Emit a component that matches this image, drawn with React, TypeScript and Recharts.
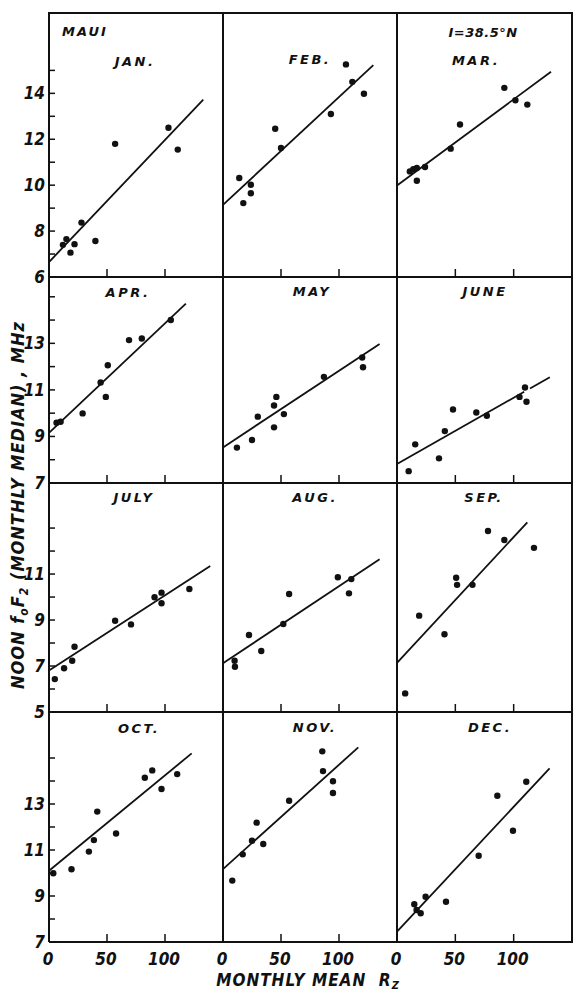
import { ComposedChart, Scatter, Line, XAxis, YAxis } from "recharts";

type Pt = [number, number];

// monthly mean Rz vs noon foF2 (MHz)
const jan: Pt[] = [[12, 7.4], [15, 7.65], [18.5, 7.06], [22, 7.43], [28, 8.37], [40, 7.57], [57, 11.8], [103, 12.5], [111, 11.55]];
const feb: Pt[] = [[14, 10.31], [17.5, 9.22], [24, 10.02], [24, 9.65], [45, 12.46], [50, 11.62], [93, 13.1], [106, 15.26], [111.5, 14.5], [121.5, 13.98]];
const mar: Pt[] = [[11, 10.6], [14, 10.7], [17, 10.19], [17, 10.75], [24, 10.79], [46, 11.59], [54, 12.64], [92, 14.24], [101.5, 13.7], [111.7, 13.51]];
const apr: Pt[] = [[6.5, 9.59], [10, 9.63], [29, 9.99], [44.5, 11.32], [49, 10.7], [50.7, 12.06], [69, 13.14], [80, 13.21], [105, 14.0]];
const may: Pt[] = [[12, 8.52], [25, 8.85], [30, 9.85], [44, 9.39], [44, 10.33], [46, 10.7], [52.5, 9.96], [87, 11.56], [120, 12.39], [120.7, 11.97]];
const june: Pt[] = [[10, 7.51], [15.6, 8.66], [36, 8.06], [41, 9.23], [48, 10.16], [68, 10.03], [77, 9.89], [105, 10.7], [109.7, 11.1], [111, 10.49]];
const july: Pt[] = [[5, 6.43], [13, 6.9], [20, 7.23], [22, 7.84], [57, 8.97], [70.7, 8.81], [91, 9.99], [97, 10.19], [97, 9.73], [121, 10.35]];
const aug: Pt[] = [[10, 7.23], [10.3, 6.97], [22.4, 8.35], [33, 7.65], [52, 8.83], [57, 10.13], [99, 10.86], [110.6, 10.78], [108.6, 10.16]];
const sep: Pt[] = [[7, 5.81], [19, 9.19], [40.7, 8.38], [50.7, 10.84], [51.5, 10.53], [64.7, 10.53], [78, 12.87], [92, 12.48], [117.4, 12.14]];
const oct: Pt[] = [[3.7, 9.99], [19.4, 10.16], [34.4, 10.93], [38.7, 11.43], [41.6, 12.67], [57.8, 11.72], [82.6, 14.14], [89, 14.46], [97, 13.65], [110.5, 14.3]];
const nov: Pt[] = [[8, 9.67], [17, 10.81], [25, 11.4], [29, 12.19], [34.7, 11.26], [57, 13.14], [85.6, 15.29], [86.2, 14.43], [94.8, 13.99], [94.8, 13.48]];
const dec: Pt[] = [[14.8, 8.64], [16.8, 8.39], [20.3, 8.25], [24.5, 8.97], [42, 8.75], [70, 10.75], [86, 13.36], [99.4, 11.84], [110.8, 13.97]];

// fitted straight lines (end points)
const janFit: Pt[] = [[0, 6.65], [133, 13.73]];
const febFit: Pt[] = [[0, 9.14], [129.6, 15.23]];
const marFit: Pt[] = [[0, 9.99], [132, 14.94]];
const aprFit: Pt[] = [[0, 9.15], [118, 14.71]];
const mayFit: Pt[] = [[0, 8.53], [135, 12.97]];
const juneFit: Pt[] = [[0, 7.82], [109, 10.92]];
const juneDash: Pt[] = [[114, 11.06], [131, 11.54]];
const julyFit: Pt[] = [[0, 6.8], [139, 11.35]];
const augFit: Pt[] = [[0, 7.12], [135, 11.64]];
const sepFit: Pt[] = [[0, 7.14], [111.7, 13.25]];
const octFit: Pt[] = [[0, 10.1], [123, 15.2]];
const novFit: Pt[] = [[0, 10.17], [116.6, 15.46]];
const decFit: Pt[] = [[0, 7.45], [130.8, 14.55]];

const monthNames = ["JAN.", "FEB.", "MAR.", "APR.", "MAY", "JUNE", "JULY", "AUG.", "SEP.", "OCT.", "NOV.", "DEC."];
const monthPoints = [jan, feb, mar, apr, may, june, july, aug, sep, oct, nov, dec];
const monthFits = [janFit, febFit, marFit, aprFit, mayFit, juneFit, julyFit, augFit, sepFit, octFit, novFit, decFit];

const xDomain: [number, number] = [0, 150];
const xTicks = [0, 50, 100];
const rowDomains: [number, number][] = [[6, 17.5], [7, 15.85], [5, 14.96], [7, 17]];
const rowTicks = [
  [6, 7, 8, 9, 10, 11, 12, 13, 14, 15],
  [7, 8, 9, 10, 11, 12, 13, 14, 15],
  [5, 6, 7, 8, 9, 10, 11, 12, 13],
  [7, 8, 9, 10, 11, 12, 13, 14, 15],
];
const rowTickLabels = [[6, 8, 10, 12, 14], [7, 9, 11, 13], [5, 7, 9, 11], [7, 9, 11, 13]];

// page layout (px)
const ROW_EDGES = [13, 277, 483, 712, 942];
const COL_EDGES = [49, 223, 397, 572];
const TITLE_POS: Pt[] = [
  [135, 61], [310, 59], [476, 60],
  [128, 292], [312, 291], [485, 291],
  [134, 497], [315, 497], [484, 497],
  [139, 728], [315, 727], [490, 727],
];

const INK = "#111";
const NUM_FONT = "'Liberation Sans Narrow', 'DejaVu Sans Condensed', 'Liberation Sans', sans-serif";
const LABEL_FONT = "'DejaVu Sans', 'Liberation Sans', sans-serif";
const numText = { fill: INK, fontSize: 17, fontWeight: 700, fontStyle: "italic", fontFamily: NUM_FONT } as const;

const toRows = (pts: Pt[]) => pts.map(([x, y]) => ({ x, y }));

const Dot = (p: any) => <circle cx={p.cx} cy={p.cy} r={3.2} fill={INK} />;

function Panel({ idx }: { idx: number }) {
  const r = Math.floor(idx / 3);
  const c = idx % 3;
  const pad = 4;
  const yAxisW = c === 0 ? 46 : 1;
  const xAxisH = r === 3 ? 30 : 1;
  const pw = COL_EDGES[c + 1] - COL_EDGES[c];
  const ph = ROW_EDGES[r + 1] - ROW_EDGES[r];
  const labels = rowTickLabels[r];
  const axisX = pad + yAxisW;
  const axisY = pad + ph;

  // ticks point inward, labels sit outside
  const xTick = (p: any) => (
    <g>
      <line x1={p.x} x2={p.x} y1={axisY} y2={axisY - 8} stroke={INK} strokeWidth={1.5} />
      {r === 3 && (
        <text {...numText} x={p.x - 1} y={axisY + 17} textAnchor="middle" dominantBaseline="central">
          {p.payload.value}
        </text>
      )}
    </g>
  );
  const yTick = (p: any) =>
    c === 0 ? (
      <g>
        <line x1={axisX} x2={axisX + 6} y1={p.y} y2={p.y} stroke={INK} strokeWidth={1.5} />
        {labels.includes(p.payload.value) && (
          <text {...numText} x={axisX - 4} y={p.y} textAnchor="end" dominantBaseline="central">
            {p.payload.value}
          </text>
        )}
      </g>
    ) : (
      <g />
    );

  return (
    <div style={{ position: "absolute", left: COL_EDGES[c] - axisX, top: ROW_EDGES[r] - pad }}>
      <ComposedChart
        width={pw + axisX + pad}
        height={ph + xAxisH + pad * 2}
        margin={{ top: pad, right: pad, bottom: pad, left: pad }}
      >
        <XAxis
          type="number"
          dataKey="x"
          domain={xDomain}
          ticks={xTicks}
          interval={0}
          height={xAxisH}
          axisLine={{ stroke: INK, strokeWidth: 2 }}
          tickLine={false}
          tick={xTick}
        />
        <YAxis
          type="number"
          dataKey="y"
          domain={rowDomains[r]}
          ticks={rowTicks[r]}
          interval={0}
          width={yAxisW}
          axisLine={{ stroke: INK, strokeWidth: 2 }}
          tickLine={false}
          tick={yTick}
        />
        <Line
          data={toRows(monthFits[idx])}
          dataKey="y"
          type="linear"
          stroke={INK}
          strokeWidth={1.8}
          dot={false}
          isAnimationActive={false}
        />
        {idx === 5 && (
          <Line
            data={toRows(juneDash)}
            dataKey="y"
            type="linear"
            stroke={INK}
            strokeWidth={1.8}
            dot={false}
            isAnimationActive={false}
          />
        )}
        <Scatter data={toRows(monthPoints[idx])} dataKey="y" shape={Dot} isAnimationActive={false} />
      </ComposedChart>
    </div>
  );
}

const labelStyle: React.CSSProperties = {
  position: "absolute",
  transform: "translate(-50%, -50%)",
  fontFamily: LABEL_FONT,
  fontWeight: 700,
  fontStyle: "italic",
  color: INK,
  lineHeight: 1,
  whiteSpace: "nowrap",
};

export default function App() {
  return (
    <div style={{ position: "absolute", left: 0, top: 0, width: 574, height: 990, background: "#fff" }}>
      <style>{`.recharts-surface { overflow: visible; }`}</style>
      {monthNames.map((_, i) => (
        <Panel key={i} idx={i} />
      ))}
      {/* frame: top and right edges */}
      <div
        style={{
          position: "absolute",
          left: COL_EDGES[0] - 1,
          top: ROW_EDGES[0] - 1,
          width: COL_EDGES[3] - COL_EDGES[0],
          height: ROW_EDGES[4] - ROW_EDGES[0],
          borderTop: `2px solid ${INK}`,
          borderRight: `2px solid ${INK}`,
          pointerEvents: "none",
        }}
      />
      {monthNames.map((m, i) => (
        <div key={m} style={{ ...labelStyle, left: TITLE_POS[i][0], top: TITLE_POS[i][1], fontSize: 13, letterSpacing: 2.5 }}>
          {m}
        </div>
      ))}
      <div style={{ ...labelStyle, left: 85, top: 31, fontSize: 13, letterSpacing: 2 }}>MAUI</div>
      <div style={{ ...labelStyle, left: 483, top: 32, fontSize: 13, letterSpacing: 0.5 }}>I=38.5°N</div>
      {/* y axis title */}
      <div
        style={{
          ...labelStyle,
          left: 18,
          top: 505,
          fontFamily: NUM_FONT,
          fontSize: 18,
          letterSpacing: 1,
          transform: "translate(-50%, -50%) rotate(-90deg)",
        }}
      >
        NOON f<span style={{ fontSize: 12, position: "relative", top: 4 }}>o</span>F
        <span style={{ fontSize: 12, position: "relative", top: 4 }}>2</span> (MONTHLY MEDIAN) , MHz
      </div>
      {/* x axis title */}
      <div style={{ ...labelStyle, left: 308, top: 980, fontFamily: NUM_FONT, fontSize: 17, letterSpacing: 1 }}>
        MONTHLY MEAN&nbsp;&nbsp;R<span style={{ fontSize: 11, position: "relative", top: 3 }}>Z</span>
      </div>
    </div>
  );
}
